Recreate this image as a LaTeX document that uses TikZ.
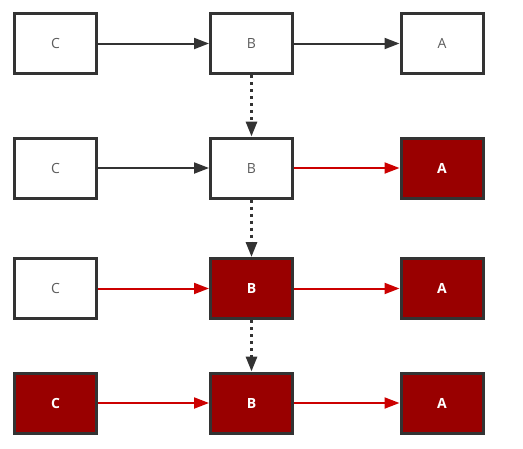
\documentclass[tikz,border=0pt]{standalone}
\usepackage{fontspec}
\setmainfont{Open Sans}
\usetikzlibrary{arrows.meta}
\definecolor{boxline}{HTML}{333333}
\definecolor{hotfill}{HTML}{990000}
\definecolor{hotline}{HTML}{CC0000}
\begin{document}
\begin{tikzpicture}[x=1pt, y=-1pt,
    cold/.style={shape=rectangle, draw=boxline, line width=3pt, fill=white, minimum width=82pt, minimum height=60pt, text=boxline!80, font=\fontsize{14}{16}\selectfont},
    hot/.style={cold, fill=hotfill, text=white, font=\fontsize{14}{16}\selectfont\bfseries},
    link/.style={draw=boxline, line width=2pt, -{Triangle[length=15pt,width=11pt]}},
    hotlink/.style={link, draw=hotline, -{Triangle[length=15pt,width=11pt]}},
    down/.style={link, line width=3pt, dash pattern=on 3pt off 4pt, -{Triangle[length=15pt,width=11pt]}}]

    \useasboundingbox (0,0) rectangle (523,448);

    \node[cold] (c1) at (55.5,43.5) {C};
    \node[cold] (b1) at (251.5,43.5) {B};
    \node[cold] (a1) at (442,43.5) {A};

    \node[cold] (c2) at (55.5,168) {C};
    \node[cold] (b2) at (251.5,168) {B};
    \node[hot] (a2) at (442,168) {A};

    \node[cold] (c3) at (55.5,288.5) {C};
    \node[hot] (b3) at (251.5,288.5) {B};
    \node[hot] (a3) at (442,288.5) {A};

    \node[hot] (c4) at (55.5,403) {C};
    \node[hot] (b4) at (251.5,403) {B};
    \node[hot] (a4) at (442,403) {A};

    \path [link] (c1) -- (b1);
    \path [link] (b1) -- (a1);

    \path [link] (c2) -- (b2);
    \path [hotlink] (b2) -- (a2);

    \path [hotlink] (c3) -- (b3);
    \path [hotlink] (b3) -- (a3);

    \path [hotlink] (c4) -- (b4);
    \path [hotlink] (b4) -- (a4);

    \path [down] (b1) -- (b2);
    \path [down] (b2) -- (b3);
    \path [down] (b3) -- (b4);

\end{tikzpicture}
\end{document}
